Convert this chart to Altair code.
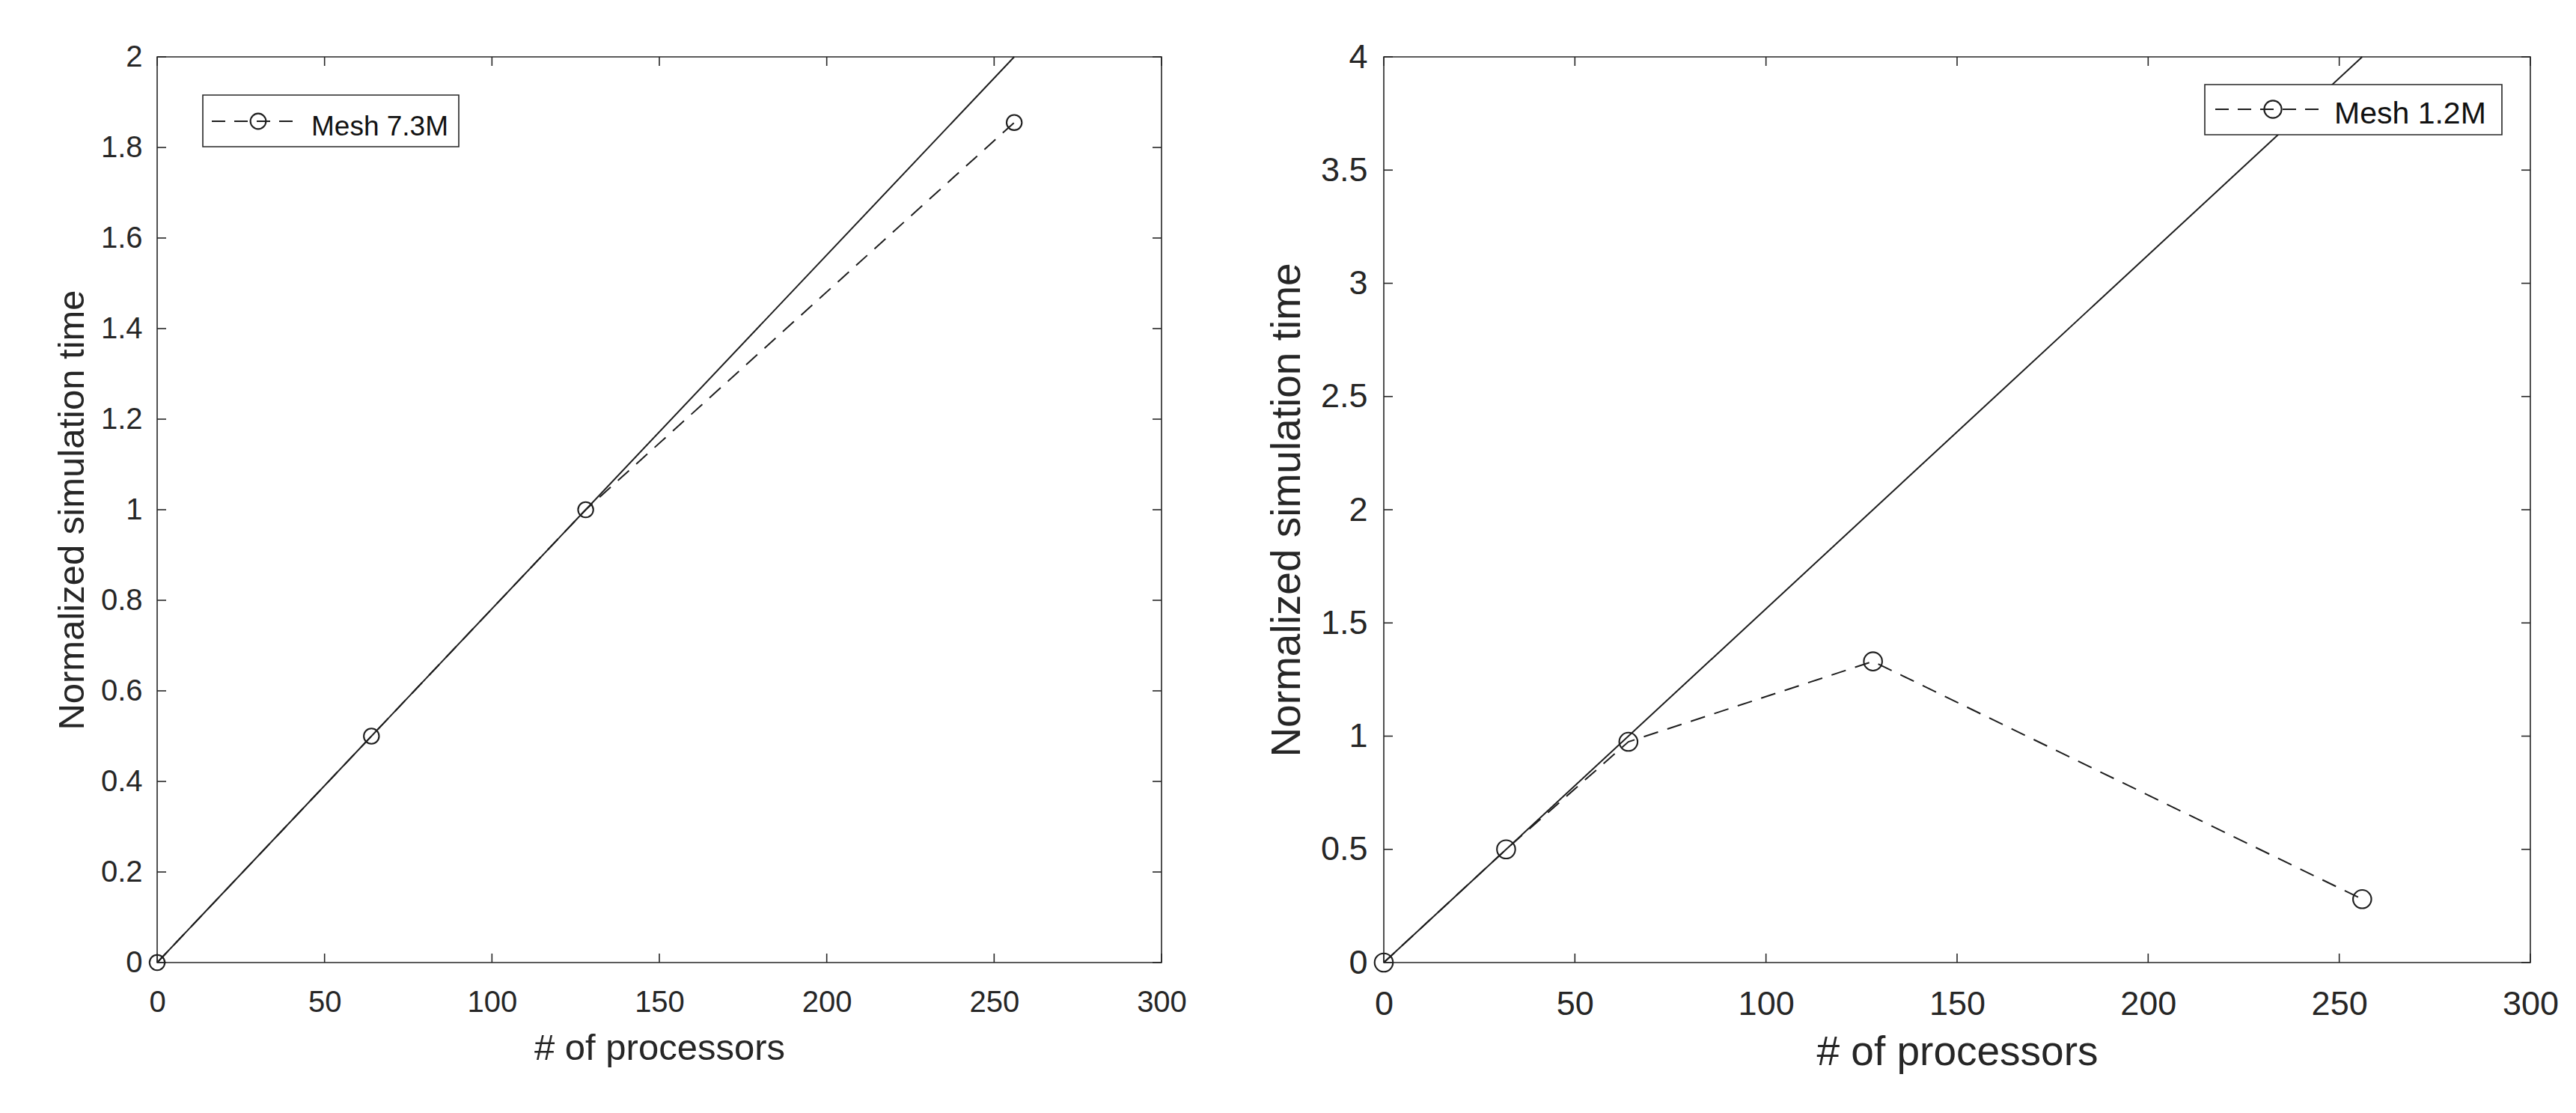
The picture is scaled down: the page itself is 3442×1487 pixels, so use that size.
import altair as alt
import pandas as pd

FONT = "Liberation Sans"
INK = "#262626"
LINE = "#1e1e1e"

# ---- data ----
x_ticks = [0, 50, 100, 150, 200, 250, 300]

left_label = ["Mesh 7.3M"]
left_proc = [0, 64, 128, 256]
left_time = [0.0, 0.5, 1.0, 1.855]
left_ideal_proc = [0, 256]
left_ideal_time = [0.0, 2.0]
left_y_ticks = [0, 0.2, 0.4, 0.6, 0.8, 1.0, 1.2, 1.4, 1.6, 1.8, 2.0]

right_label = ["Mesh 1.2M"]
right_proc = [0, 32, 64, 128, 256]
right_time = [0.0, 0.5, 0.975, 1.33, 0.28]
right_ideal_proc = [0, 256]
right_ideal_time = [0.0, 4.0]
right_y_ticks = [0, 0.5, 1.0, 1.5, 2.0, 2.5, 3.0, 3.5, 4.0]


def make_panel(mx, my, ix, iy, label, ymax, yticks, W, H, fs_lab, fs_title,
               fs_leg, xlab_pad, ylab_pad, xtitle_pad, ytitle_pad, msize, leg):
    pts = pd.DataFrame({"x": mx, "y": my})
    ideal = pd.DataFrame({"x": ix, "y": iy})
    xs = alt.Scale(domain=[0, 300], nice=False, zero=False)
    ys = alt.Scale(domain=[0, ymax], nice=False, zero=False)
    common = dict(grid=False, domain=False, ticks=False, labelFlush=False,
                  labelOverlap=False, labelColor=INK, titleColor=INK,
                  labelFont=FONT, titleFont=FONT, titleFontWeight="normal",
                  labelFontSize=fs_lab, titleFontSize=fs_title)
    xaxis = alt.Axis(values=x_ticks, title="# of processors", format="d",
                     labelPadding=xlab_pad, titlePadding=xtitle_pad, **common)
    yaxis = alt.Axis(values=yticks, title="Normalized simulation time",
                     format="~g",
                     labelPadding=ylab_pad, titlePadding=ytitle_pad, **common)

    def X(f):
        return alt.X(f, scale=xs, axis=xaxis)

    def Y(f):
        return alt.Y(f, scale=ys, axis=yaxis)

    ideal_line = alt.Chart(ideal).mark_line(color=LINE, strokeWidth=2.0).encode(
        x=X("x:Q"), y=Y("y:Q"))
    meas_line = alt.Chart(pts).mark_line(color=LINE, strokeWidth=2.0,
                                         strokeDash=[20, 13]).encode(
        x=X("x:Q"), y=Y("y:Q"))
    meas_pts = alt.Chart(pts).mark_point(shape="circle", filled=False,
                                         size=msize, color=LINE,
                                         strokeWidth=2.1, opacity=1).encode(
        x=X("x:Q"), y=Y("y:Q"))

    xt = pd.DataFrame({"x": x_ticks})
    yt = pd.DataFrame({"y": yticks})
    tl = 12
    tick_b = alt.Chart(xt).mark_rule(color=INK, strokeWidth=1.6).encode(
        x=X("x:Q"), y=alt.value(H), y2=alt.value(H - tl))
    tick_t = alt.Chart(xt).mark_rule(color=INK, strokeWidth=1.6).encode(
        x=X("x:Q"), y=alt.value(0), y2=alt.value(tl))
    tick_l = alt.Chart(yt).mark_rule(color=INK, strokeWidth=1.6).encode(
        y=Y("y:Q"), x=alt.value(0), x2=alt.value(tl))
    tick_r = alt.Chart(yt).mark_rule(color=INK, strokeWidth=1.6).encode(
        y=Y("y:Q"), x=alt.value(W), x2=alt.value(W - tl))

    ld = pd.DataFrame({"label": label})
    box = alt.Chart(ld).mark_rect(fill="white", stroke=INK, strokeWidth=1.6).encode(
        x=alt.value(leg["bx0"]), x2=alt.value(leg["bx1"]),
        y=alt.value(leg["by0"]), y2=alt.value(leg["by1"]))
    sym_line = alt.Chart(ld).mark_rule(color=LINE, strokeWidth=2.0,
                                       strokeDash=[18, 12]).encode(
        x=alt.value(leg["lx0"]), x2=alt.value(leg["lx1"]), y=alt.value(leg["ly"]))
    sym_pt = alt.Chart(ld).mark_point(shape="circle", filled=False, size=leg["ps"],
                                      color=LINE, strokeWidth=2.1, opacity=1).encode(
        x=alt.value(leg["cx"]), y=alt.value(leg["ly"]))
    sym_text = alt.Chart(ld).mark_text(align="left", baseline="alphabetic",
                                       font=FONT, fontSize=fs_leg, color="#111111").encode(
        x=alt.value(leg["tx"]), y=alt.value(leg["ty"]), text="label:N")

    return alt.layer(ideal_line, meas_line, meas_pts, tick_b, tick_t, tick_l,
                     tick_r, box, sym_line, sym_pt, sym_text).properties(
        width=W, height=H)


left = make_panel(left_proc, left_time, left_ideal_proc, left_ideal_time,
                  left_label, 2, left_y_ticks, 1342, 1210, 40, 49, 37,
                  33, 20, 17, 13, 415,
                  dict(bx0=61, bx1=403, by0=51, by1=120, lx0=73, lx1=190,
                       ly=86, cx=135, ps=430, tx=206, ty=105))
right = make_panel(right_proc, right_time, right_ideal_proc, right_ideal_time,
                   right_label, 4, right_y_ticks, 1532, 1210, 45, 55, 41,
                   33, 22, 15, 16, 600,
                   dict(bx0=1097, bx1=1494, by0=37, by1=104, lx0=1111, lx1=1251,
                        ly=70, cx=1188, ps=540, tx=1270, ty=89))

chart = alt.hconcat(left, right, spacing=104).properties(
    padding={"left": 63, "top": 45, "right": 5, "bottom": 5},
    background="white",
).configure_view(stroke=INK, strokeWidth=1.6)

chart.save("out.html", embed_options={"renderer": "svg", "actions": False})
